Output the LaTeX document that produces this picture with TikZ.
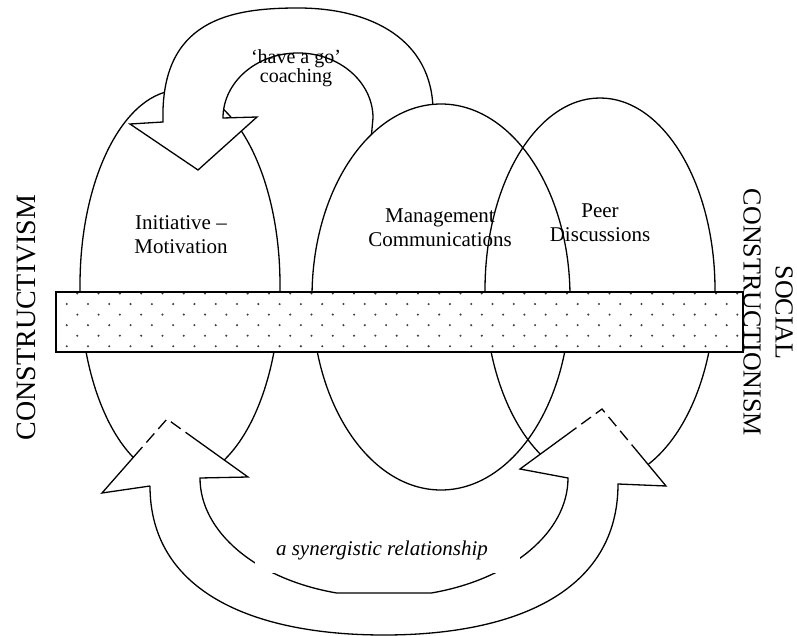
\documentclass[tikz,border=0pt]{standalone}
\usepackage{fontspec}
\setmainfont{Liberation Serif}
\usetikzlibrary{calc}

\begin{document}
\begin{tikzpicture}[x=1pt, y=-1pt, line width=1.3pt,
  txt/.style={align=center, inner sep=0pt, font=\fontsize{21}{24}\selectfont},
  side/.style={align=center, inner sep=0pt},
  gap/.style={dash pattern=on 12pt off 6pt}]
\useasboundingbox (0,0) rectangle (797,636);

\draw (180,285) ellipse [x radius=100, y radius=195];
\draw[fill=white] (163,122) .. controls (160,20) and (230,8) .. (298,8) .. controls (372,8) and (432,40) .. (433,110) -- (433,140) -- (371,140) -- (373,118) arc[start angle=0, end angle=-180, x radius=75, y radius=65] -- (257,117) -- (198,170) -- (130,124) -- cycle;
\draw[fill=white] (441,297) ellipse [x radius=129, y radius=193];
\draw (600,290) ellipse [x radius=115, y radius=192];

\node[fill=white, minimum width=685, minimum height=58, inner sep=0pt] (band) at (399.5,322) {};
\foreach \r in {0,...,5}
  \foreach \c in {0,...,31}
    \fill[black!75] ({66.7+21.29*\c+mod(\r+1,2)*10.6},{293.5+10.55*\r}) circle (1.15);
\draw[line width=2pt] (band.north west) rectangle (band.south east);

\coordinate (lh-l) at (102,493);
\coordinate (lh-t) at (167,419);
\coordinate (lh-r) at (248,477);
\coordinate (rh-l) at (520,469);
\coordinate (rh-t) at (602,409);
\coordinate (rh-r) at (666,486);
\fill[white] (150,486) -- (lh-l) -- (lh-t) -- (lh-r) -- (200,478) arc[start angle=180, end angle=105, x radius=184, y radius=119] -- ++(95.24,0) arc[start angle=75, end angle=0, x radius=184, y radius=119] -- (rh-l) -- (rh-t) -- (rh-r) -- (618,484) .. controls (618,590) and (518,635) .. (384,635) .. controls (250,635) and (150,590) .. (150,486) -- cycle;
\draw (150,486) -- (lh-l) -- ($(lh-l)!.5!(lh-t)$);
\draw[gap] ($(lh-l)!.5!(lh-t)$) -- (lh-t) -- ($(lh-t)!.32!(lh-r)$);
\draw ($(lh-t)!.32!(lh-r)$) -- (lh-r) -- (200,478) arc[start angle=180, end angle=105, x radius=184, y radius=119] -- ++(95.24,0) arc[start angle=75, end angle=0, x radius=184, y radius=119] -- (rh-l) -- ($(rh-l)!.57!(rh-t)$);
\draw[gap] ($(rh-l)!.57!(rh-t)$) -- (rh-t) -- ($(rh-t)!.48!(rh-r)$);
\draw ($(rh-t)!.48!(rh-r)$) -- (rh-r) -- (618,484) .. controls (618,590) and (518,635) .. (384,635) .. controls (250,635) and (150,590) .. (150,486);

\node[fill=white, minimum width=265, minimum height=43] (mask) at (387.5,551.5) {};
\node[txt, font=\fontsize{21}{24}\selectfont\itshape] (synergy) at (382,550) {a synergistic relationship};

\node[txt, font=\fontsize{20}{19}\selectfont] (coaching) at (296,68) {`have a go'\\coaching};
\node[txt] (initiative) at (181,235) {Initiative --\\Motivation};
\node[txt] (management) at (440,228) {Management\\Communications};
\node[txt] (peer) at (600,223) {Peer\\Discussions};

\node[side, rotate=90, font=\fontsize{28}{30}\selectfont] (constructivism) at (26,317.5) {CONSTRUCTIVISM};
\node[side, rotate=-90, font=\fontsize{26}{32}\selectfont] (social) at (768,312.5) {SOCIAL\\CONSTRUCTIONISM};
\end{tikzpicture}
\end{document}
